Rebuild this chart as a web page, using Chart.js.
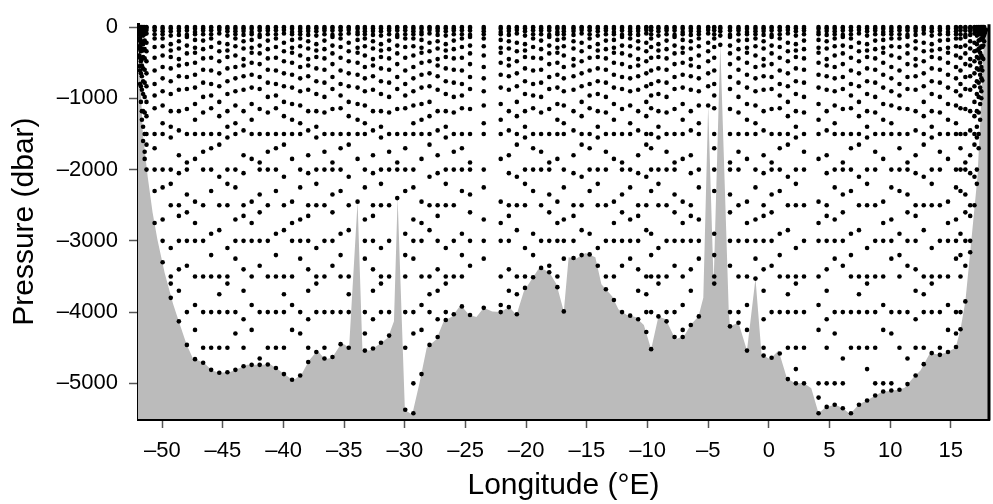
<!DOCTYPE html>
<html>
<head>
<meta charset="utf-8">
<script src="https://cdn.jsdelivr.net/npm/chart.js@4"></script>
<style>
  html, body { margin: 0; padding: 0; background: #fff; }
  #wrap { width: 993px; height: 504px; }
</style>
</head>
<body>
<div id="wrap"><canvas id="section" width="993" height="504"></canvas></div>
<script>
// Bottom profile along the section (longitude, pressure of sea floor in dbar)
const bathyLon = [
  -52.0, -51.85, -51.6, -51.2, -50.8, -50.4, -49.8, -49.1, -48.5, -48.0,
  -47.5, -46.5, -45.9, -45.3, -44.4, -43.8, -43.0, -41.7, -41.1, -40.5,
  -39.2, -38.5, -37.9, -37.2, -36.6, -36.0, -35.2, -34.6, -33.9, -33.5,
  -32.9, -32.1, -31.4, -30.9, -30.6, -30.0, -29.4, -28.8, -28.2, -27.4,
  -26.8, -26.1, -25.4, -24.7, -24.1, -23.5, -22.8, -22.1, -21.4, -20.8,
  -20.2, -18.9, -18.1, -17.5, -16.9, -16.5, -15.9, -15.1, -14.3, -13.8,
  -12.9, -12.4, -11.7, -11.0, -10.3, -9.7, -9.1, -8.5, -7.7, -7.0,
  -6.4, -5.8, -5.4, -5.0, -4.55, -4.0, -3.3, -3.2, -2.5, -1.8,
  -1.1, -0.6, 0.1, 0.8, 1.5, 2.2, 2.9, 3.5, 4.1, 4.7,
  5.5, 6.1, 6.7, 7.4, 8.4, 9.3, 10.7, 11.2, 11.9, 12.5,
  13.3, 14.0, 14.6, 15.4, 15.8, 16.2, 16.6, 17.2, 17.5, 17.75,
  18.0, 18.3
];
const bathyDepth = [
  0, 600, 1500, 2100, 2600, 2980, 3450, 3890, 4200, 4450,
  4640, 4720, 4820, 4850, 4840, 4800, 4740, 4740, 4730, 4800,
  4960, 4870, 4680, 4540, 4660, 4640, 4430, 4500, 2450, 4540,
  4540, 4450, 4360, 4130, 2400, 5370, 5440, 5000, 4500, 4380,
  4130, 4060, 3900, 4040, 4070, 3940, 3990, 4000, 3930, 4040,
  3710, 3370, 3440, 3610, 3990, 3230, 3250, 3170, 3230, 3610,
  3780, 3960, 4040, 4070, 4180, 4520, 4060, 4100, 4380, 4340,
  4170, 4060, 3800, 1100, 3600, 250, 4000, 4200, 4150, 4540,
  3530, 4590, 4660, 4540, 4930, 5000, 5000, 5070, 5420, 5330,
  5300, 5350, 5430, 5300, 5210, 5120, 5090, 5060, 4920, 4820,
  4570, 4600, 4570, 4500, 4240, 3850, 3160, 2100, 1080, 110,
  0, 0
];

// Bottle casts: sample pressures (dbar) of the typical casts seen on the section
const cast0 = [0, 20, 50, 100, 190, 310, 440, 600, 780, 980, 1200, 1500, 1750, 2000, 2500, 3000, 3500, 4000, 4500, 5000];
const cast1 = [0, 25, 60, 100, 160, 270, 400, 560, 720, 900, 1100, 1350, 1500, 2000, 2250, 2700, 3000, 3250, 4000, 4300, 5000];
const cast2 = [0, 10, 40, 90, 220, 340, 480, 650, 830, 1050, 1250, 1500, 1650, 2100, 2500, 2850, 3500, 3750, 4000, 4500];
const cast3 = [0, 15, 50, 110, 140, 260, 370, 520, 700, 870, 1150, 1500, 1900, 2000, 2350, 2600, 3000, 3350, 4000, 4650, 5000];
const cast4 = [0, 20, 60, 120, 240, 330, 420, 580, 760, 940, 1180, 1400, 1550, 2000, 2200, 2500, 3100, 3500, 3600, 4000, 4500, 4800];
const cast5 = [0, 25, 70, 100, 180, 290, 360, 500, 670, 850, 1080, 1300, 1500, 1850, 2450, 2750, 3000, 3500, 3900, 4250, 5000, 5200];
const cast6 = [0, 10, 45, 100, 160, 280, 430, 610, 800, 960, 1140, 1500, 1700, 2000, 2300, 2900, 3200, 3500, 4000, 4500];
const cast7 = [0, 20, 55, 110, 200, 300, 450, 540, 690, 880, 1180, 1450, 1800, 2050, 2500, 2650, 3000, 3400, 3700, 4100, 4500, 5000];
const casts = [cast0, cast1, cast2, cast3, cast4, cast5, cast6, cast7];

// Stations: longitude, deepest sample (dbar) and which cast pattern was used
const stationLon = [
  -51.97, -51.93, -51.88, -51.83, -51.76, -51.68, -51.58, -51.45,
  -51.3, -50.63, -49.97, -49.3, -48.63, -47.97, -47.3, -46.63, -45.97, -45.3,
  -44.63, -43.97, -43.3, -42.63, -41.97, -41.3, -40.63, -39.97, -39.3, -38.63,
  -37.97, -37.3, -36.63, -35.97, -35.3, -34.63, -33.9, -33.3, -32.63, -31.97,
  -31.3, -30.63, -29.97, -29.3, -28.63, -27.97, -27.3, -26.63, -25.97, -25.3,
  -24.63, -23.5, -22.1, -21.43, -20.77, -20.1, -19.43, -18.77, -18.1, -17.43,
  -16.9, -16.1, -15.43, -14.77, -14.1, -13.43, -12.77, -12.1, -11.43, -10.77,
  -10.1, -9.7, -9.1, -8.43, -7.77, -7.1, -6.43, -5.77, -5.0, -4.5, -4.0, -3.2,
  -2.5, -1.8, -1.1, -0.43, 0.23, 0.9, 1.57, 2.23, 2.9, 4.1, 4.77, 5.43, 6.1, 6.77,
  7.43, 8.1, 8.77, 9.43, 10.1, 10.77, 11.43, 12.1, 12.77, 13.43, 14.1, 14.77, 15.43,
  15.8, 16.2, 16.6, 16.95, 17.15, 17.3, 17.42, 17.52, 17.6, 17.68, 17.75, 17.82, 17.9
];
const stationBottom = [
  80, 300, 550, 800, 1050, 1300, 1600, 1850,
  2000, 2750, 3300, 3800, 4130, 4460, 4660, 4710, 4810, 4850,
  4845, 4810, 4760, 4740, 4740, 4735, 4785, 4870, 4950, 4890,
  4700, 4560, 4650, 4630, 4450, 4500, 2450, 4540, 4510, 4430,
  4330, 2400, 5370, 5420, 4870, 4460, 4350, 4110, 4030, 3920,
  4040, 3940, 4000, 3930, 4030, 3660, 3510, 3380, 3440, 3650,
  3990, 3240, 3200, 3190, 3350, 3680, 3830, 4000, 4050, 4100,
  4280, 4520, 4060, 4130, 4350, 4350, 4180, 4060, 1100, 3600, 250, 4200,
  4150, 4540, 3530, 4610, 4640, 4580, 4940, 5000, 5000, 5420, 5330, 5300, 5350, 5420,
  5300, 5240, 5170, 5115, 5100, 5090, 5010, 4890, 4730, 4575, 4600, 4560, 4490,
  4240, 3850, 3160, 2500, 2200, 1700, 1300, 1000, 750, 450, 200, 80, 40
];
const stationCast = [
  3, 5, 1, 6, 2, 7, 4, 0,
  2, 6, 1, 4, 7, 3, 5, 0, 6, 2,
  4, 1, 7, 5, 3, 0, 6, 2, 5, 1,
  7, 4, 0, 3, 6, 2, 5, 1, 7, 4,
  0, 3, 6, 1, 5, 2, 7, 4, 0, 6,
  3, 1, 5, 7, 2, 4, 6, 0, 3, 5,
  1, 7, 2, 6, 4, 0, 5, 3, 1, 7,
  2, 6, 4, 0, 3, 5, 7, 1, 2, 6, 4, 3,
  0, 5, 1, 7, 3, 6, 2, 4, 0, 5, 7, 1, 3, 6,
  2, 4, 0, 5, 1, 6, 3, 7, 2, 4, 0, 5, 1,
  6, 3, 7, 2, 4, 0, 5, 1, 6, 3, 7, 2, 4
];

const xTicks = [-50, -45, -40, -35, -30, -25, -20, -15, -10, -5, 0, 5, 10, 15];
const yTicks = [-5000, -4000, -3000, -2000, -1000, 0];

const FONT = "'Liberation Sans', Arial, Helvetica, sans-serif";

// Sample points: every cast level above the sea floor, plus the near-bottom bottle
const samples = [];
stationLon.forEach((lon, i) => {
    const bottom = stationBottom[i];
    const levels = casts[stationCast[i] ?? 0];
    levels.forEach((p) => {
        if (p < bottom - 80) samples.push({ x: lon, y: -p });
    });
    samples.push({ x: lon, y: -bottom });
});

const floor = bathyLon.map((lon, i) => ({ x: lon, y: -bathyDepth[i] }));

const fmt = (v) => (v < 0 ? "\u2013" + Math.abs(v) : String(v));

// right-hand frame line (the plot has no top line)
const frameRight = {
    id: "frameRight",
    afterDatasetsDraw(chart) {
        const { ctx, chartArea: a } = chart;
        ctx.save();
        ctx.strokeStyle = "#000";
        ctx.lineWidth = 3;
        ctx.beginPath();
        ctx.moveTo(a.right, a.top);
        ctx.lineTo(a.right, a.bottom + 1.5);
        ctx.stroke();
        ctx.restore();
    },
};

const ctx = document.getElementById("section").getContext("2d");
new Chart(ctx, {
    type: "scatter",
    data: {
        datasets: [
            {
                label: "Samples",
                data: samples,
                pointRadius: 2.3,
                pointBackgroundColor: "#000",
                pointBorderWidth: 0,
                order: 1,
            },
            {
                type: "line",
                label: "Bottom",
                data: floor,
                showLine: true,
                fill: "start",
                backgroundColor: "#bbbbbb",
                borderColor: "rgba(0,0,0,0)",
                borderWidth: 0,
                pointRadius: 0,
                tension: 0,
                order: 2,
            },
        ],
    },
    options: {
        responsive: false,
        animation: false,
        devicePixelRatio: 1,
        layout: { padding: { left: 0, right: 2, top: 19, bottom: 0 } },
        plugins: {
            legend: { display: false },
            tooltip: { enabled: false },
        },
        scales: {
            x: {
                type: "linear",
                min: -52,
                max: 18.15,
                afterBuildTicks: (s) => {
                    s.ticks = xTicks.map((v) => ({ value: v }));
                },
                afterFit: (s) => {
                    s.height = 85;
                },
                grid: {
                    display: true,
                    drawOnChartArea: false,
                    drawTicks: true,
                    tickLength: 9,
                    tickColor: "#555",
                    tickWidth: 1.5,
                },
                border: { display: true, color: "#000", width: 3 },
                ticks: {
                    font: { family: FONT, size: 22 },
                    color: "#000",
                    padding: 10,
                    maxRotation: 0,
                    autoSkip: false,
                    callback: (v) => fmt(v),
                },
                title: {
                    display: true,
                    text: "Longitude (°E)",
                    font: { family: FONT, size: 30 },
                    color: "#000",
                    padding: { top: 1, bottom: 0 },
                },
            },
            y: {
                type: "linear",
                min: -5500,
                max: 40,
                afterBuildTicks: (s) => {
                    s.ticks = yTicks.map((v) => ({ value: v }));
                },
                afterFit: (s) => {
                    s.width = 138;
                },
                grid: {
                    display: true,
                    drawOnChartArea: false,
                    drawTicks: true,
                    tickLength: 9,
                    tickColor: "#555",
                    tickWidth: 1.5,
                },
                border: { display: true, color: "#000", width: 3 },
                ticks: {
                    font: { family: FONT, size: 22 },
                    color: "#000",
                    padding: 11,
                    callback: (v) => fmt(v),
                },
                title: {
                    display: true,
                    text: "Pressure (dbar)",
                    font: { family: FONT, size: 30 },
                    color: "#000",
                    padding: { top: 7, bottom: 0 },
                },
            },
        },
    },
    plugins: [frameRight],
});
</script>
</body>
</html>
